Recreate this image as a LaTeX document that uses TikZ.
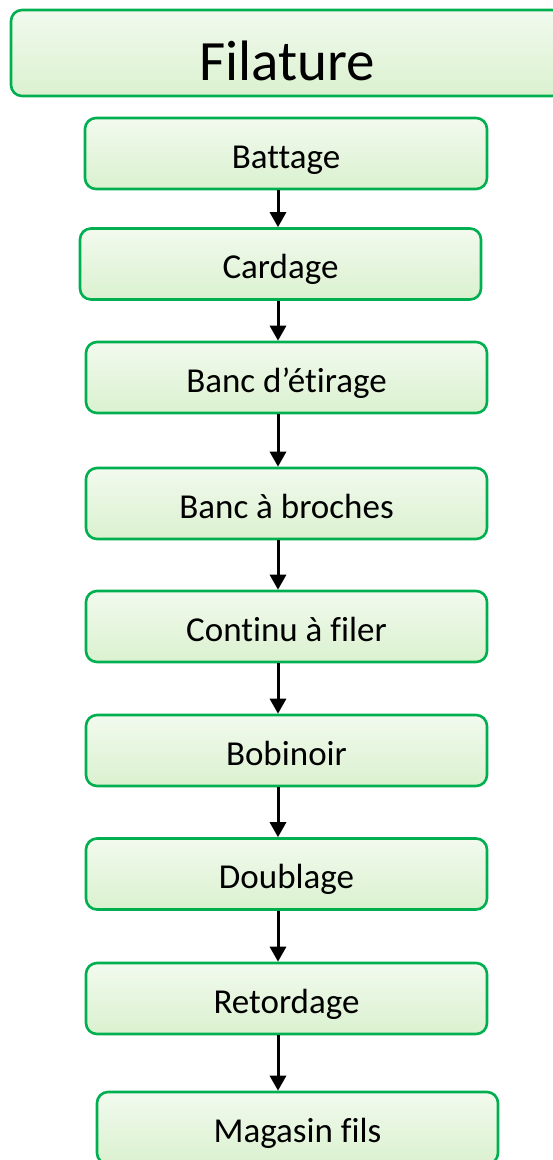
\documentclass[tikz,border=0pt]{standalone}
\usepackage{fontspec}
\setmainfont[Ligatures=NoCommon]{Carlito}
\usetikzlibrary{arrows.meta}
\definecolor{boxgreen}{HTML}{00B050}
\definecolor{filltop}{HTML}{F2FAEE}
\definecolor{fillbot}{HTML}{DAF1CF}
\tikzset{
  stepbox/.style={draw=boxgreen, line width=2.6pt, rounded corners=11pt,
    top color=filltop, bottom color=fillbot, inner sep=0pt,
    text height=29pt, text depth=0pt,
    font=\fontsize{35}{40}\selectfont, text=black},
  flowarrow/.style={line width=3pt, -{Triangle[width=16pt,length=15pt]}}
}
\begin{document}
\begin{tikzpicture}[x=1pt,y=-1pt]
\useasboundingbox (0,0) rectangle (552,1160);
\node[stepbox, minimum width=552pt, minimum height=86pt, text height=54pt, font=\fontsize{57}{64}\selectfont] (title) at (287,53) {Filature};
\node[stepbox, minimum width=402pt, minimum height=71pt] (b1) at (286,153.5) {Battage};
\node[stepbox, minimum width=401pt, minimum height=71pt] (b2) at (280.5,264) {Cardage};
\node[stepbox, minimum width=401pt, minimum height=71pt] (b3) at (286.5,377.5) {Banc d’étirage};
\node[stepbox, minimum width=401pt, minimum height=71pt] (b4) at (286.5,503.5) {Banc à broches};
\node[stepbox, minimum width=401pt, minimum height=71pt] (b5) at (286.5,626.5) {Continu à filer};
\node[stepbox, minimum width=401pt, minimum height=71pt] (b6) at (286.5,750.5) {Bobinoir};
\node[stepbox, minimum width=401pt, minimum height=71pt] (b7) at (286.5,874) {Doublage};
\node[stepbox, minimum width=401pt, minimum height=71pt] (b8) at (286.5,998.5) {Retordage};
\node[stepbox, minimum width=401pt, minimum height=72pt] (b9) at (297.5,1128) {Magasin fils};
\foreach \a/\b in {b1/b2,b2/b3,b3/b4,b4/b5,b5/b6,b6/b7,b7/b8,b8/b9}{
  \draw[flowarrow] (\a.south -| 278,0) -- (\b.north -| 278,0);
}
\end{tikzpicture}
\end{document}
